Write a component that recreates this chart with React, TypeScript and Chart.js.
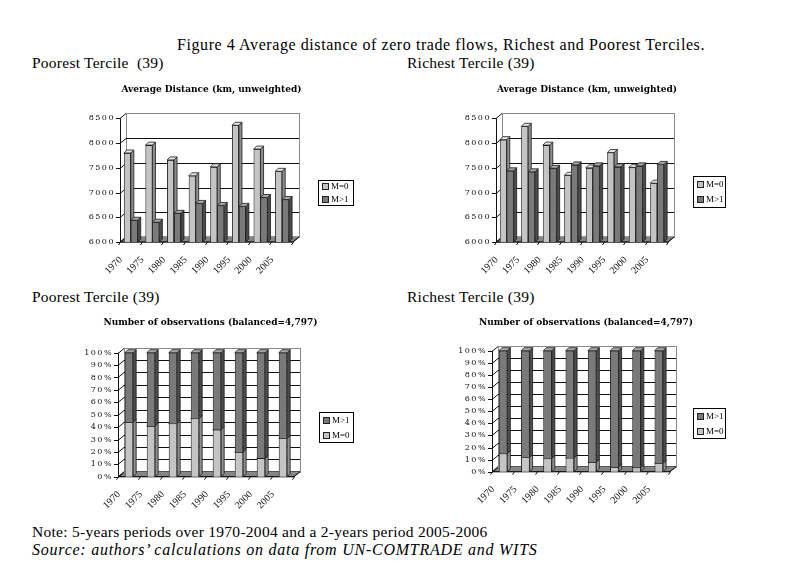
import React, { useEffect, useRef } from "react";
import { Chart, registerables } from "chart.js";
Chart.register(...registerables);

// ---------- data ----------
const years = ["1970", "1975", "1980", "1985", "1990", "1995", "2000", "2005"];
const seriesLabels = ["M=0", "M>1"];

const poorDistM0 = [7800, 7960, 7660, 7340, 7520, 8360, 7880, 7430];
const poorDistM1 = [6440, 6400, 6580, 6780, 6740, 6720, 6900, 6860];
const richDistM0 = [8070, 8340, 7960, 7350, 7500, 7810, 7510, 7190];
const richDistM1 = [7440, 7420, 7490, 7560, 7540, 7520, 7540, 7570];

const poorShareM0 = [44, 41, 43, 47, 38, 20, 15, 31];
const poorShareM1 = [56, 59, 57, 53, 62, 80, 85, 69];
const richShareM0 = [15, 12, 11, 11.5, 8, 4, 3.5, 7];
const richShareM1 = [85, 88, 89, 88.5, 92, 96, 96.5, 93];

const distTicks = [6000, 6500, 7000, 7500, 8000, 8500];
const pctTicks = [0, 10, 20, 30, 40, 50, 60, 70, 80, 90, 100];

const figureTitle = "Figure 4 Average distance of zero trade flows, Richest and Poorest Terciles.";
const poorHeading = "Poorest Tercile  (39)";
const poorHeading2 = "Poorest Tercile (39)";
const richHeading = "Richest Tercile (39)";
const distTitle = "Average Distance (km, unweighted)";
const obsTitle = "Number of observations (balanced=4,797)";
const noteText = "Note: 5-years periods over 1970-2004 and a 2-years period 2005-2006";
const sourceText = "Source: authors\u2019 calculations on data from UN-COMTRADE and WITS";

// ---------- styles ----------
const LIGHT = { front: "#c4c4c4", side: "#8e8e8e", top: "#e4e4e4" };
const DARK = { front: "#7a7a7a", side: "#4c4c4c", top: "#a6a6a6" };
const SERIF = "'Liberation Serif', 'Times New Roman', serif";
const TICKFONT = "'DejaVu Serif', serif";
const DX = 6, DY = -5; // wall depth
const BDX = 3, BDY = -3; // bar depth

const threeD = {
  id: "threeD",
  beforeDatasetsDraw(chart: any) {
    const { ctx, chartArea: a } = chart;
    const y = chart.scales.y;
    const n = chart.data.labels.length;
    ctx.save();
    ctx.lineWidth = 1;
    // floor
    ctx.fillStyle = "#858585";
    ctx.strokeStyle = "#333";
    ctx.beginPath();
    ctx.moveTo(a.left, a.bottom);
    ctx.lineTo(a.right, a.bottom);
    ctx.lineTo(a.right + DX, a.bottom + DY);
    ctx.lineTo(a.left + DX, a.bottom + DY);
    ctx.closePath();
    ctx.fill();
    ctx.stroke();
    // back wall border
    ctx.strokeStyle = "#8a8a8a";
    ctx.strokeRect(Math.round(a.left + DX) + 0.5, Math.round(a.top + DY) + 0.5, Math.round(a.right - a.left), Math.round(a.bottom - a.top));
    // gridlines on left wall + back wall
    ctx.strokeStyle = "#111";
    y.ticks.forEach((t: any, i: number) => {
      const py = Math.round(y.getPixelForValue(t.value)) + 0.5;
      ctx.beginPath();
      ctx.moveTo(a.left - 4, py);
      ctx.lineTo(a.left, py);
      ctx.lineTo(a.left + DX, py + DY);
      if (i > 0 && i < y.ticks.length - 1) ctx.lineTo(a.right + DX, py + DY);
      ctx.stroke();
    });
    // front axes
    ctx.beginPath();
    ctx.moveTo(Math.round(a.left) + 0.5, a.top);
    ctx.lineTo(Math.round(a.left) + 0.5, a.bottom);
    ctx.lineTo(a.right, a.bottom);
    ctx.lineTo(a.right + DX, a.bottom + DY);
    ctx.stroke();
    for (let i = 0; i <= n; i++) {
      const px = Math.round(a.left + ((a.right - a.left) * i) / n) + 0.5;
      ctx.beginPath();
      ctx.moveTo(px, a.bottom);
      ctx.lineTo(px - 2, a.bottom + 3);
      ctx.stroke();
    }
    ctx.restore();
  },
  afterDatasetsDraw(chart: any) {
    const { ctx } = chart;
    ctx.save();
    chart.data.datasets.forEach((ds: any, di: number) => {
      const meta = chart.getDatasetMeta(di);
      meta.data.forEach((el: any) => {
        const { x, y, base, width } = el.getProps(["x", "y", "base", "width"], true);
        const l = x - width / 2, r = x + width / 2;
        const t = Math.min(y, base), b = Math.max(y, base);
        el.draw(ctx);
        ctx.lineWidth = 0.8;
        ctx.strokeStyle = "#1a1a1a";
        ctx.fillStyle = ds.sideColor;
        ctx.beginPath();
        ctx.moveTo(r, t);
        ctx.lineTo(r + BDX, t + BDY);
        ctx.lineTo(r + BDX, b + BDY);
        ctx.lineTo(r, b);
        ctx.closePath();
        ctx.fill();
        ctx.stroke();
        ctx.fillStyle = ds.topColor;
        ctx.beginPath();
        ctx.moveTo(l, t);
        ctx.lineTo(l + BDX, t + BDY);
        ctx.lineTo(r + BDX, t + BDY);
        ctx.lineTo(r, t);
        ctx.closePath();
        ctx.fill();
        ctx.stroke();
      });
    });
    ctx.restore();
    // value-axis labels (drawn next, z=1) are letter-spaced like the original
    ctx.letterSpacing = "1.5px";
  },
};

const boxLegend = {
  id: "boxLegend",
  afterDraw(chart: any, _args: any, opts: any) {
    const { ctx } = chart;
    ctx.letterSpacing = "0px";
    const { x, y, w, h, reverse } = opts;
    ctx.save();
    ctx.lineWidth = 1;
    ctx.strokeStyle = "#000";
    ctx.strokeRect(x + 0.5, y + 0.5, w, h);
    let idx = chart.data.datasets.map((_d: any, i: number) => i);
    if (reverse) idx = idx.reverse();
    idx.forEach((di: number, k: number) => {
      const ds = chart.data.datasets[di];
      const iy = Math.round(y + (h * (k + 0.5)) / idx.length);
      ctx.fillStyle = ds.backgroundColor;
      ctx.fillRect(x + 4, iy - 3, 6, 6);
      ctx.strokeStyle = "#222";
      ctx.strokeRect(x + 4.5, iy - 2.5, 6, 6);
      ctx.fillStyle = "#000";
      ctx.font = `9px ${SERIF}`;
      ctx.textBaseline = "middle";
      ctx.textAlign = "left";
      ctx.fillText(ds.label, x + 13, iy + 0.5);
    });
    ctx.restore();
  },
};

type Panel = {
  left: number; top: number; width: number; height: number;
  title: string; titleTop: number; titleBottom: number;
  yWidth: number; xHeight: number; padRight: number;
  pct: boolean; m0: number[]; m1: number[];
  legend: { x: number; y: number; w: number; h: number; reverse: boolean };
  catPct: number;
};

function ChartPanel({ p }: { p: Panel }) {
  const ref = useRef<HTMLCanvasElement>(null);
  useEffect(() => {
    if (!ref.current) return;
    const ticksArr = p.pct ? pctTicks : distTicks;
    const chart = new Chart(ref.current, {
      type: "bar",
      data: {
        labels: years,
        datasets: [
          { label: seriesLabels[0], data: p.m0, base: ticksArr[0], backgroundColor: LIGHT.front, borderColor: "#1a1a1a", borderWidth: 0.8, sideColor: LIGHT.side, topColor: LIGHT.top } as any,
          { label: seriesLabels[1], data: p.m1, base: p.pct ? undefined : ticksArr[0], backgroundColor: DARK.front, borderColor: "#1a1a1a", borderWidth: 0.8, sideColor: DARK.side, topColor: DARK.top } as any,
        ],
      },
      options: {
        responsive: false,
        animation: false,
        events: [],
        layout: { padding: 0 },
        datasets: { bar: { categoryPercentage: p.catPct, barPercentage: 1 } },
        plugins: {
          legend: { display: false },
          tooltip: { enabled: false },
          title: {
            display: true,
            text: p.title,
            color: "#000",
            font: { family: TICKFONT, size: 9, weight: "bold" },
            padding: { top: p.titleTop, bottom: p.titleBottom },
          },
          boxLegend: p.legend,
        } as any,
        scales: {
          x: {
            stacked: p.pct,
            grid: { display: false, drawTicks: false },
            border: { display: false },
            ticks: {
              autoSkip: false,
              minRotation: 45,
              maxRotation: 45,
              padding: 12,
              labelOffset: -10,
              color: "#111",
              font: { family: SERIF, size: 10 },
            },
            afterFit: (s: any) => { s.height = p.xHeight; },
          },
          y: {
            stacked: p.pct,
            min: ticksArr[0],
            max: ticksArr[ticksArr.length - 1],
            grid: { display: false, drawTicks: false },
            border: { display: false },
            afterBuildTicks: (s: any) => { s.ticks = ticksArr.map((v) => ({ value: v })); },
            ticks: {
              autoSkip: false,
              z: 1,
              padding: 5,
              color: "#111",
              font: { family: TICKFONT, size: 8 },
              callback: (v: any) => (p.pct ? `${v}%` : `${v}`),
            },
            afterFit: (s: any) => { s.width = p.yWidth; },
          },
          legendSpace: {
            type: "linear",
            position: "right",
            display: true,
            grid: { display: false, drawTicks: false },
            border: { display: false },
            ticks: { display: false },
            afterFit: (s: any) => { s.width = p.padRight; },
          },
        },
      } as any,
      plugins: [threeD, boxLegend],
    });
    return () => chart.destroy();
  }, [p]);
  return (
    <canvas
      ref={ref}
      width={p.width}
      height={p.height}
      style={{ position: "absolute", left: p.left, top: p.top, width: p.width, height: p.height }}
    />
  );
}

const panels: Panel[] = [
  {
    left: 60, top: 80, width: 303, height: 198,
    title: distTitle, titleTop: 4, titleBottom: 23.6,
    yWidth: 60, xHeight: 36, padRight: 70, pct: false,
    m0: poorDistM0, m1: poorDistM1,
    legend: { x: 258, y: 100, w: 35, h: 25, reverse: false }, catPct: 0.64,
  },
  {
    left: 445, top: 80, width: 284, height: 198,
    title: distTitle, titleTop: 4, titleBottom: 23.6,
    yWidth: 51, xHeight: 36, padRight: 61, pct: false,
    m0: richDistM0, m1: richDistM1,
    legend: { x: 248, y: 96, w: 32, h: 31, reverse: false }, catPct: 0.64,
  },
  {
    left: 60, top: 312, width: 301, height: 203,
    title: obsTitle, titleTop: 5, titleBottom: 24.9,
    yWidth: 58, xHeight: 38.3, padRight: 67, pct: true,
    m0: poorShareM0, m1: poorShareM1,
    legend: { x: 259, y: 100, w: 34, h: 30, reverse: true }, catPct: 0.38,
  },
  {
    left: 440, top: 312, width: 292, height: 203,
    title: obsTitle, titleTop: 5, titleBottom: 22.9,
    yWidth: 52, xHeight: 43.3, padRight: 62, pct: true,
    m0: richShareM0, m1: richShareM1,
    legend: { x: 253, y: 96, w: 32, h: 30, reverse: true }, catPct: 0.38,
  },
];

const txt = (left: number, top: number, size: number, s: string, spacing: number, italic = false) => (
  <div
    style={{
      position: "absolute", left, top, fontSize: size, lineHeight: `${size}px`, letterSpacing: spacing,
      fontFamily: SERIF, fontStyle: italic ? "italic" : "normal", whiteSpace: "pre", color: "#000",
    }}
  >
    {s}
  </div>
);

export default function App() {
  return (
    <div style={{ position: "absolute", left: 0, top: 0, width: 791, height: 581, background: "#fff", overflow: "hidden" }}>
      {txt(177, 37, 16, figureTitle, 0.58)}
      {txt(32, 55, 15.5, poorHeading, 0.25)}
      {txt(407, 55, 15.5, richHeading, 0.25)}
      {txt(32, 289, 15.5, poorHeading2, 0.25)}
      {txt(407, 289, 15.5, richHeading, 0.25)}
      {panels.map((p, i) => <ChartPanel key={i} p={p} />)}
      {txt(32, 524, 15.5, noteText, 0.28)}
      {txt(32, 542, 16, sourceText, 0.75, true)}
    </div>
  );
}
